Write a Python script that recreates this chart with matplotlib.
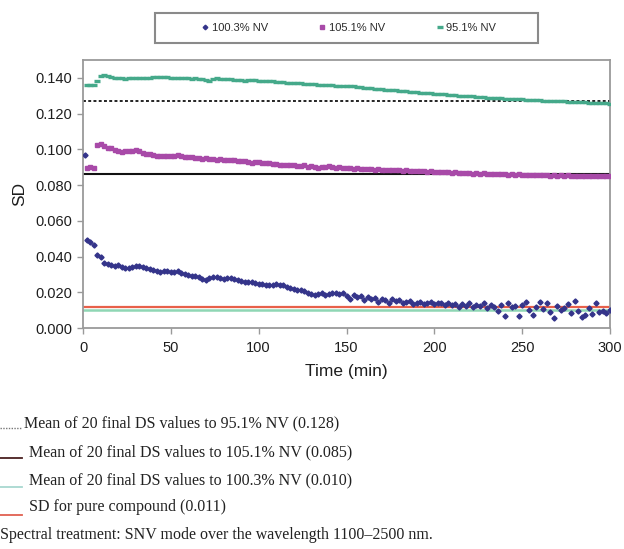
import numpy as np
import matplotlib
matplotlib.use("Agg")
import matplotlib.pyplot as plt
from matplotlib.lines import Line2D
from matplotlib.patches import Rectangle

# ---------------- data ----------------
time = np.arange(2, 302, 2)  # minutes

blue_first_time = [1]
blue_first_value = [0.097]

sd_100_3 = [
    0.0490, 0.0480, 0.0465, 0.0410, 0.0395, 0.0365, 0.0360, 0.0350, 0.0345, 0.0350,
    0.0340, 0.0338, 0.0334, 0.0340, 0.0345, 0.0349, 0.0342, 0.0335, 0.0330, 0.0322,
    0.0318, 0.0315, 0.0320, 0.0318, 0.0312, 0.0315, 0.0318, 0.0308, 0.0300, 0.0297,
    0.0293, 0.0290, 0.0285, 0.0275, 0.0270, 0.0278, 0.0285, 0.0287, 0.0282, 0.0275,
    0.0278, 0.0278, 0.0272, 0.0268, 0.0265, 0.0260, 0.0258, 0.0255, 0.0250, 0.0248,
    0.0245, 0.0241, 0.0238, 0.0243, 0.0245, 0.0242, 0.0240, 0.0232, 0.0225, 0.0220,
    0.0215, 0.0212, 0.0205, 0.0195, 0.0188, 0.0185, 0.0192, 0.0195, 0.0186, 0.0190,
    0.0195, 0.0198, 0.0192, 0.0194, 0.0180, 0.0165, 0.0185, 0.0172, 0.0180, 0.0158,
    0.0175, 0.0160, 0.0170, 0.0148, 0.0162, 0.0155, 0.0142, 0.0165, 0.0150, 0.0158,
    0.0140, 0.0145, 0.0150, 0.0135, 0.0142, 0.0148, 0.0135, 0.0140, 0.0145, 0.0132,
    0.0140, 0.0138, 0.0130, 0.0142, 0.0128, 0.0135, 0.0120, 0.0132, 0.0125, 0.0138,
    0.0118, 0.0130, 0.0122, 0.0140, 0.0110, 0.0128, 0.0118, 0.0095, 0.0130, 0.0065,
    0.0142, 0.0115, 0.0125, 0.0065, 0.0130, 0.0148, 0.0100, 0.0070, 0.0120, 0.0148,
    0.0105, 0.0138, 0.0088, 0.0055, 0.0125, 0.0098, 0.0110, 0.0135, 0.0085, 0.0150,
    0.0095, 0.0060, 0.0070, 0.0112, 0.0080, 0.0142, 0.0090, 0.0095, 0.0085, 0.0102,
]

sd_105_1 = [
    0.0895, 0.0900, 0.0895, 0.1025, 0.1030, 0.1020, 0.1010, 0.1005, 0.0995, 0.0990,
    0.0985, 0.0988, 0.0990, 0.0992, 0.0995, 0.0990, 0.0982, 0.0975, 0.0972, 0.0968,
    0.0965, 0.0962, 0.0965, 0.0962, 0.0960, 0.0965, 0.0968, 0.0962, 0.0958, 0.0955,
    0.0955, 0.0952, 0.0950, 0.0948, 0.0952, 0.0945, 0.0948, 0.0942, 0.0945, 0.0940,
    0.0943, 0.0938, 0.0940, 0.0935, 0.0932, 0.0935, 0.0930, 0.0926, 0.0930, 0.0928,
    0.0925, 0.0922, 0.0925, 0.0918, 0.0920, 0.0915, 0.0912, 0.0915, 0.0910, 0.0912,
    0.0905, 0.0908, 0.0910, 0.0902, 0.0905, 0.0900, 0.0898, 0.0902, 0.0900, 0.0905,
    0.0900, 0.0898, 0.0900, 0.0895, 0.0898, 0.0895, 0.0892, 0.0895, 0.0890, 0.0892,
    0.0888, 0.0890, 0.0887, 0.0889, 0.0885, 0.0887, 0.0884, 0.0886, 0.0882, 0.0884,
    0.0880, 0.0882, 0.0879, 0.0881, 0.0878, 0.0876, 0.0878, 0.0875, 0.0877, 0.0874,
    0.0872, 0.0874, 0.0871, 0.0873, 0.0869, 0.0871, 0.0867, 0.0869, 0.0866, 0.0868,
    0.0864, 0.0866, 0.0863, 0.0866, 0.0862, 0.0864, 0.0861, 0.0863, 0.0860, 0.0862,
    0.0859, 0.0861, 0.0858, 0.0860, 0.0857, 0.0859, 0.0856, 0.0858, 0.0855, 0.0857,
    0.0854, 0.0856, 0.0853, 0.0855, 0.0852, 0.0855, 0.0851, 0.0854, 0.0850, 0.0853,
    0.0850, 0.0852, 0.0849, 0.0852, 0.0849, 0.0851, 0.0848, 0.0851, 0.0849, 0.0852,
]

sd_95_1 = [
    0.1360, 0.1358, 0.1362, 0.1385, 0.1410, 0.1415, 0.1412, 0.1405, 0.1400, 0.1398,
    0.1400, 0.1396, 0.1398, 0.1400, 0.1398, 0.1400, 0.1402, 0.1400, 0.1402, 0.1404,
    0.1403, 0.1405, 0.1406, 0.1403, 0.1402, 0.1400, 0.1401, 0.1398, 0.1400, 0.1398,
    0.1396, 0.1398, 0.1395, 0.1393, 0.1390, 0.1385, 0.1392, 0.1398, 0.1396, 0.1394,
    0.1393, 0.1392, 0.1390, 0.1388, 0.1386, 0.1385, 0.1388, 0.1390, 0.1387, 0.1385,
    0.1384, 0.1383, 0.1381, 0.1380, 0.1378, 0.1377, 0.1376, 0.1374, 0.1373, 0.1372,
    0.1370, 0.1369, 0.1368, 0.1366, 0.1365, 0.1364, 0.1362, 0.1361, 0.1360, 0.1360,
    0.1358, 0.1357, 0.1356, 0.1355, 0.1355, 0.1353, 0.1352, 0.1350, 0.1348, 0.1346,
    0.1344, 0.1342, 0.1340, 0.1338, 0.1336, 0.1334, 0.1333, 0.1331, 0.1330, 0.1328,
    0.1326, 0.1324, 0.1322, 0.1321, 0.1319, 0.1318, 0.1316, 0.1315, 0.1313, 0.1312,
    0.1310, 0.1309, 0.1307, 0.1306, 0.1304, 0.1303, 0.1301, 0.1300, 0.1298, 0.1297,
    0.1296, 0.1295, 0.1293, 0.1292, 0.1290, 0.1289, 0.1288, 0.1287, 0.1285, 0.1284,
    0.1283, 0.1282, 0.1281, 0.1280, 0.1279, 0.1278, 0.1277, 0.1276, 0.1275, 0.1274,
    0.1273, 0.1272, 0.1271, 0.1270, 0.1270, 0.1269, 0.1268, 0.1267, 0.1266, 0.1266,
    0.1265, 0.1264, 0.1263, 0.1262, 0.1262, 0.1261, 0.1260, 0.1259, 0.1258, 0.1256,
]

series_labels = ["100.3% NV", "105.1% NV", "95.1% NV"]

mean_95_1 = 0.127
mean_105_1 = 0.086
mean_100_3 = 0.010
sd_pure = 0.012

notes = [
    "Mean of 20 final DS values to 95.1% NV (0.128)",
    "Mean of 20 final DS values to 105.1% NV (0.085)",
    "Mean of 20 final DS values to 100.3% NV (0.010)",
    "SD for pure compound (0.011)",
    "Spectral treatment: SNV mode over the wavelength 1100\u20132500 nm.",
]

yticks = [0.0, 0.02, 0.04, 0.06, 0.08, 0.10, 0.12, 0.14]
xticks = [0, 50, 100, 150, 200, 250, 300]

# ---------------- styling ----------------
c_blue = "#34348a"
c_mag = "#a84aa8"
c_green = "#45a98a"
c_green_line = "#8fd6b4"
c_red = "#e8604a"
c_frame = "#9a9a9a"
sans = "Liberation Sans"

W, H = 624, 549
fig = plt.figure(figsize=(W / 100, H / 100), dpi=100)
ax = fig.add_axes([83 / W, 1 - 328 / H, (610 - 83) / W, (328 - 60) / H])

# reference lines
ax.axhline(mean_95_1, color="#222222", lw=1.4, ls=(0, (1.5, 1.2)), zorder=2)
ax.axhline(mean_105_1, color="#111111", lw=1.5, zorder=2)
ax.axhline(sd_pure, color=c_red, lw=1.6, zorder=2)
ax.axhline(mean_100_3, color=c_green_line, lw=1.8, zorder=2)

# series
ax.plot(np.r_[blue_first_time, time], np.r_[blue_first_value, sd_100_3], ls="none",
        marker="D", ms=2.6, color=c_blue, mec=c_blue, zorder=3, label=series_labels[0])
ax.plot(time, sd_105_1, ls="none", marker="s", ms=3.2, color=c_mag, mec=c_mag,
        zorder=3, label=series_labels[1])
ax.plot(time, sd_95_1, ls="none", marker="_", ms=5, mew=2.4, color=c_green,
        zorder=3, label=series_labels[2])

ax.set_xlim(0, 300)
ax.set_ylim(0, 0.15)
ax.set_xticks(xticks)
ax.set_yticks(yticks)
ax.set_yticklabels([f"{v:.3f}" for v in yticks])
for s in ax.spines.values():
    s.set_color(c_frame)
    s.set_linewidth(1.3)
ax.tick_params(axis="both", colors=c_frame, length=4, width=1, labelsize=10.5,
               labelcolor="#1e1e1e")
for lab in ax.get_xticklabels() + ax.get_yticklabels():
    lab.set_fontfamily(sans)
ax.tick_params(axis="x", pad=5)
ax.set_ylabel("SD", fontsize=12.5, color="#1e1e1e", labelpad=6, family=sans)
ax.set_xlabel("Time (min)", fontsize=12.5, color="#1e1e1e", labelpad=7, family=sans)

# legend at top
fig.add_artist(Rectangle((155 / W, 1 - 43 / H), 383 / W, 30 / H, transform=fig.transFigure,
                         facecolor="white", edgecolor="#8a8a8a", lw=1.5))
leg = fig.legend(loc="center", bbox_to_anchor=(349 / W, 1 - 28 / H), ncol=3,
                 prop={"family": sans, "size": 8}, frameon=False,
                 borderaxespad=0, handlelength=0.6, handletextpad=0.3,
                 columnspacing=4.6, markerscale=0.9)
for t in leg.get_texts():
    t.set_color("#2a2a2a")

# notes below the chart
note_y = [423, 452, 480, 507, 535]
note_x = [24, 29, 29, 29, 0]
sample_y = [428, 458, 487, 515]
sample_style = [
    dict(color="#777777", lw=1.0, ls=(0, (1, 1))),
    dict(color="#4a2020", lw=1.3),
    dict(color="#a8d8d0", lw=1.3),
    dict(color="#e06050", lw=1.3),
]
for i, txt in enumerate(notes):
    fig.text(note_x[i] / W, 1 - note_y[i] / H, txt, fontsize=11.5, family="Liberation Serif",
             va="center", ha="left", color="#222222")
for i, st in enumerate(sample_style):
    fig.add_artist(Line2D([0, 22 / W], [1 - sample_y[i] / H] * 2,
                          transform=fig.transFigure, **st))

fig.savefig("out.png", dpi=100)
